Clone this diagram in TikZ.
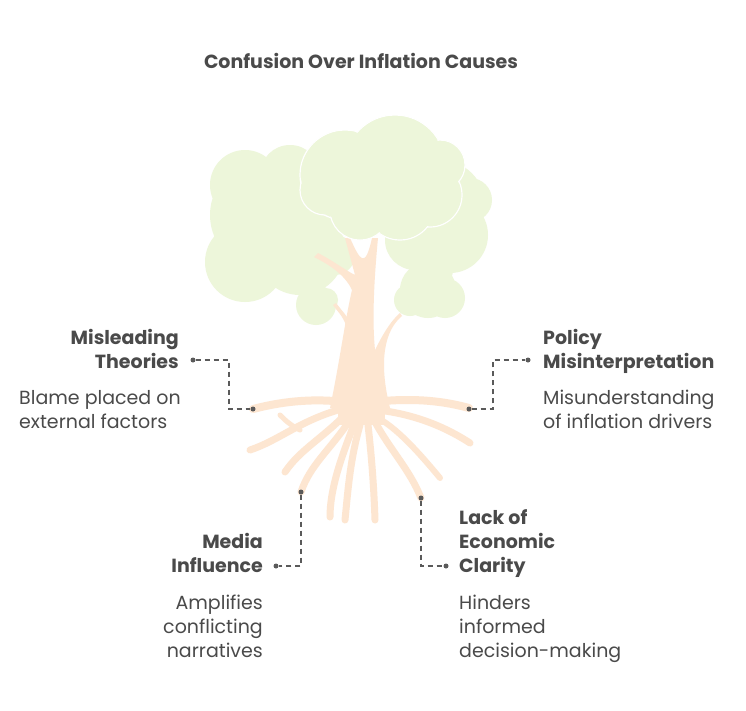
\documentclass[tikz,border=0pt]{standalone}
\usepackage{fontspec}
\setmainfont{Poppins}
\definecolor{leaf}{HTML}{EDF6DA}
\definecolor{bark}{HTML}{FDE6D1}
\definecolor{ink}{HTML}{4A4A4A}
\definecolor{con}{HTML}{5A5A5A}
\tikzset{
 head/.style={font=\fontsize{19}{24}\selectfont\bfseries, text=ink, inner sep=0pt},
 desc/.style={font=\fontsize{19}{24}\selectfont, text=ink, inner sep=0pt},
 conn/.style={con, line width=1.3pt, dash pattern=on 5pt off 4pt},
 dotc/.style={circle, fill=con, inner sep=0pt, minimum size=5pt},
 root/.style={bark, line cap=round},
 puff/.style={fill=leaf, draw=white, line width=1.2pt}
}
\begin{document}
\begin{tikzpicture}[x=1pt,y=-1pt]
\useasboundingbox (0,0) rectangle (746,710);
\fill[white] (0,0) rectangle (746,710);
\node[head, anchor=base] (title) at (361,68) {Confusion Over Inflation Causes};
% crown back
\fill[leaf] (265,215) circle (55) (245,262) circle (40) (300,250) circle (45) (245,185) circle (35)
 (290,175) circle (30) (440,205) circle (45) (450,235) circle (38) (415,240) circle (30)
 (470,200) circle (22) (335,255) circle (20);
% small puffs
\fill[leaf] (316,305) circle (20) (326,300) circle (12) (428,290) circle (28) (445,298) circle (20) (410,300) circle (16) (435,270) circle (18);
% trunk and branches
\fill[bark] (330,408) .. controls (340,360) and (345,320) .. (352,290)
 .. controls (345,275) and (330,265) .. (314,257) -- (318,253)
 .. controls (335,262) and (345,270) .. (355,275) -- (345,238) -- (350,238)
 .. controls (360,260) and (365,270) .. (372,238) -- (378,238)
 .. controls (374,280) and (372,320) .. (375,350) .. controls (385,330) and (392,320) .. (400,313)
 -- (402,316) .. controls (385,330) and (378,360) .. (390,408) -- cycle;
\fill[bark] (346,325) .. controls (342,315) and (338,312) .. (333,305) -- (336,303) .. controls (343,312) and (347,316) .. (350,322) -- cycle;
% roots
\foreach \w/\p in {
 8/{(345,402) .. controls (310,398) and (280,402) .. (253,409)},
 7/{(345,408) .. controls (300,420) and (280,440) .. (250,450)},
 5/{(300,430) .. controls (290,425) and (285,420) .. (280,415)},
 7/{(345,415) .. controls (320,440) and (300,450) .. (285,472)},
 7/{(350,420) .. controls (330,450) and (310,465) .. (301,492)},
 7/{(355,422) .. controls (340,460) and (330,490) .. (330,517)},
 7/{(360,425) .. controls (350,460) and (348,490) .. (345,520)},
 7/{(368,425) .. controls (372,460) and (374,490) .. (375,520)},
 7/{(374,420) .. controls (390,450) and (410,470) .. (421,498)},
 6/{(378,418) .. controls (400,430) and (425,460) .. (440,478)},
 7/{(378,410) .. controls (420,415) and (450,430) .. (470,443)},
 8/{(372,402) .. controls (410,398) and (440,400) .. (469,408)}}
 \draw[root, line width=\w pt] \p;
\fill[bark] (338,400) rectangle (385,425);
% crown top clump (outlined)
\foreach \c/\r in {{(345,175)}/45,{(395,165)}/50,{(430,195)}/32,{(400,205)}/35,{(360,210)}/30,{(325,190)}/25,{(440,165)}/25}
 \filldraw[puff] \c circle (\r);
\fill[leaf] (345,175) circle (44) (395,165) circle (49) (430,195) circle (31) (400,205) circle (34) (360,210) circle (29) (325,190) circle (24) (440,165) circle (24);
% Misleading Theories
\node[head, align=right, anchor=base east] (mt) at (179,368) {Misleading\\Theories};
\node[desc, align=left, anchor=base west] (mtd) at (19,428) {Blame placed on\\external factors};
\node[dotc] (mt1) at (193,360) {}; \node[dotc] (mt2) at (253,409) {};
\draw[conn] (mt1) -| (229,409) -- (mt2);
% Policy Misinterpretation
\node[head, align=left, anchor=base west] (pm) at (543,368) {Policy\\Misinterpretation};
\node[desc, align=left, anchor=base west] (pmd) at (543,428) {Misunderstanding\\of inflation drivers};
\node[dotc] (pm1) at (528,360) {}; \node[dotc] (pm2) at (469,409) {};
\draw[conn] (pm2) -| (493,360) -- (pm1);
% Media Influence
\node[head, align=right, anchor=base east] (mi) at (263,572) {Media\\Influence};
\node[desc, align=right, anchor=base east] (mid) at (263,657) {Amplifies\\conflicting\\narratives};
\node[dotc] (mi1) at (301,492) {}; \node[dotc] (mi2) at (276,566) {};
\draw[conn] (mi1) |- (mi2);
% Lack of Economic Clarity
\node[head, align=left, anchor=base west] (le) at (459,572) {Lack of\\Economic\\Clarity};
\node[desc, align=left, anchor=base west] (led) at (459,657) {Hinders\\informed\\decision-making};
\node[dotc] (le1) at (421,498) {}; \node[dotc] (le2) at (446,566) {};
\draw[conn] (le1) |- (le2);
\end{tikzpicture}
\end{document}
